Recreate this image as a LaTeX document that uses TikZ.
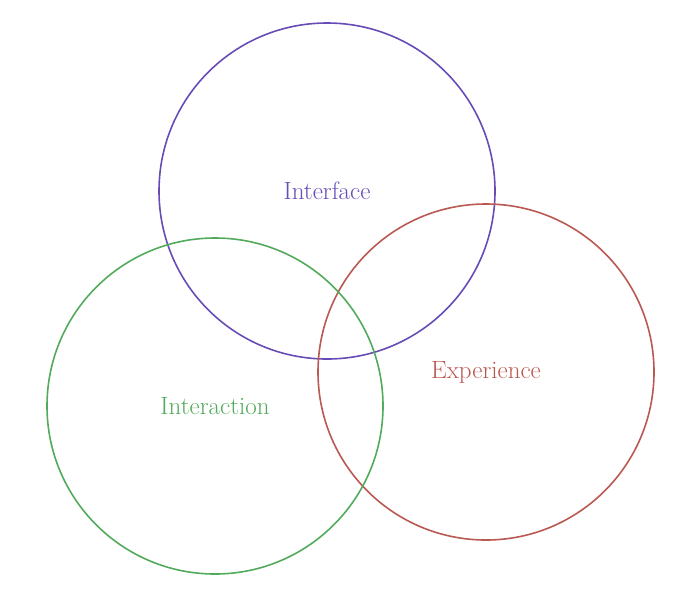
\documentclass[tikz,border=0pt]{standalone}
\usepackage{fontspec}
\usetikzlibrary{positioning}
\definecolor{ifacecol}{RGB}{104,76,182}
\definecolor{expcol}{RGB}{186,88,82}
\definecolor{intcol}{RGB}{82,170,92}

\begin{document}
\begin{tikzpicture}[x=1pt,y=-1pt]
    % --- Style Definitions ---
    \tikzset{
        set circle/.style={
            circle,
            draw=#1,
            text=#1,
            line width=1.6pt,
            minimum size=336pt,
            inner sep=0pt,
            font=\fontsize{25}{30}\selectfont
        }
    }

    % --- Bounding box ---
    \useasboundingbox (0,0) rectangle (700,598);

    % --- The three sets ---
    \node[set circle=ifacecol] (iface) at (327,191) {Interface};
    \node[set circle=expcol] (exp) at (486,372) {Experience};
    \node[set circle=intcol] (inter) at (215,406) {Interaction};
\end{tikzpicture}
\end{document}
